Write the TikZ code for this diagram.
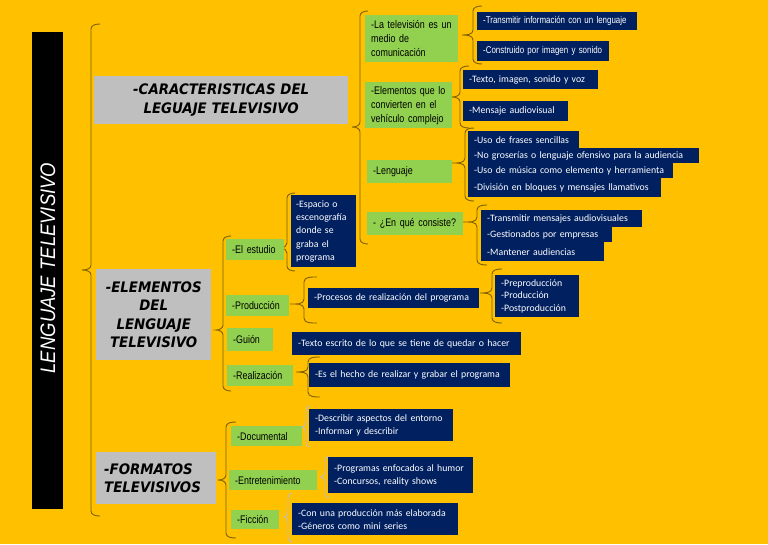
\documentclass[tikz,border=0pt]{standalone}
\usepackage{fontspec}
\usepackage{tikz}
\usetikzlibrary{positioning,calc}
\usepackage{xcolor}

\newfontfamily\narrow[FakeStretch=0.81]{Liberation Sans}
\newfontfamily\titlefont[FakeStretch=0.88]{Liberation Sans}
\newfontfamily\calib{Carlito}
\newfontfamily\heavy[FakeStretch=0.92]{DejaVu Sans}
\hyphenpenalty=10000

\definecolor{bgyellow}{HTML}{FFC000}
\definecolor{leaf}{HTML}{92D050}
\definecolor{navy}{HTML}{002060}
\definecolor{greybox}{HTML}{BFBFBF}
\definecolor{bracecol}{HTML}{7F6000}
\definecolor{lightbrk}{HTML}{BFBFBF}

\tikzset{
  topic/.style={fill=greybox, anchor=north west, inner xsep=6pt, inner ysep=0pt,
    font=\heavy\bfseries\itshape\fontsize{14.5}{18.5}\selectfont},
  item/.style={fill=leaf, anchor=north west, align=left, inner xsep=6pt, inner ysep=0pt,
    font=\narrow\fontsize{11}{14}\selectfont},
  note/.style={fill=navy, text=white, anchor=north west, align=left, inner xsep=6pt,
    inner ysep=0pt, font=\calib\fontsize{9.8}{13}\selectfont},
  notenarrow/.style={note, font=\narrow\fontsize{9.8}{12}\selectfont},
  brace/.style={draw=bracecol, line width=0.9pt},
  softbrace/.style={draw=lightbrk, line width=0.9pt}
}

% curly bracket: stem x, top, tip y, bottom, tip x, end x
\newcommand\curly[7][brace]{%
  \path[#1] (#7,#3) to[out=180,in=90] (#2,#3+5) -- (#2,#4-5)
    to[out=-90,in=0] (#6,#4) to[out=0,in=90] (#2,#4+5) -- (#2,#5-5)
    to[out=-90,in=180] (#7,#5);}

\begin{document}
\begin{tikzpicture}[x=1pt,y=-1pt]
  \useasboundingbox[fill=bgyellow] (0,0) rectangle (768,544);

  % Title
  \fill[black] (32,32) rectangle (63,509);
  \node[rotate=90, text=white, font=\titlefont\itshape\fontsize{21}{24}\selectfont]
    (title) at (48,268) {LENGUAJE TELEVISIVO};

  % Main topics
  \node[topic, text width=242pt, minimum height=48pt, align=center] (carac) at (94,76)
    {-CARACTERISTICAS DEL\\LEGUAJE TELEVISIVO};
  \node[topic, text width=103pt, minimum height=91pt, align=center] (elem) at (96,269)
    {-ELEMENTOS\\DEL\\LENGUAJE\\TELEVISIVO};
  \node[topic, text width=104pt, minimum height=52pt, align=left, inner xsep=8pt] (form) at (96,452)
    {-FORMATOS\\TELEVISIVOS};

  % Braces
  \curly{91}{24}{270}{516}{82}{100}
  \curly{360}{11}{127}{244}{352}{368}
  \curly{473}{6}{35}{64}{462}{482}
  \curly{460}{66}{97}{128}{452}{469}
  \curly{465}{128}{163}{201}{452}{474}
  \curly{477}{205}{222}{265}{463}{487}
  \curly{223}{236}{330}{391}{216}{231}
  \curly{287}{193}{248}{271}{281}{295}
  \curly{304}{277}{304}{323}{290}{317}
  \curly{492}{269}{293}{323}{480}{502}
  \curly{308}{357}{372}{397}{296}{320}
  \curly{226}{422}{480}{538}{218}{236}
  \curly[softbrace]{306}{406}{427}{447}{302}{310}
  \curly[softbrace]{325}{456}{477}{498}{321}{329}
  \curly[softbrace]{288}{493}{517}{542}{284}{292}

  % Caracteristicas
  \node[item, text width=81pt, minimum height=47pt] (tv) at (365,15)
    {-La televisión es un\\medio de\\comunicación};
  \node[item, text width=75pt, minimum height=46pt] (veh) at (365,82)
    {-Elementos que lo\\convierten en el\\vehículo complejo};
  \node[item, text width=73pt, minimum height=23pt] (leng) at (367,160) {-Lenguaje};
  \node[item, text width=84pt, minimum height=23pt] (cons) at (367,212) {- ¿En qué consiste?};

  \node[notenarrow, text width=148pt, minimum height=18pt] (tv1) at (477,12)
    {-Transmitir información con un lenguaje};
  \node[notenarrow, text width=120pt, minimum height=20pt] (tv2) at (477,41)
    {-Construido por imagen y sonido};
  \node[note, text width=123pt, minimum height=19pt] (veh1) at (463,70)
    {-Texto, imagen, sonido y voz};
  \node[note, text width=93pt, minimum height=20pt] (veh2) at (463,101)
    {-Mensaje audiovisual};

  \node[note, text width=99pt, minimum height=17pt] (leng1) at (468,131)
    {-Uso de frases sencillas};
  \node[note, text width=219pt, minimum height=15pt] (leng2) at (468,148)
    {-No groserías o lenguaje ofensivo para la audiencia};
  \node[note, text width=193pt, minimum height=15pt] (leng3) at (468,163)
    {-Uso de música como elemento y herramienta};
  \node[note, text width=181pt, minimum height=19pt] (leng4) at (468,178)
    {-División en bloques y mensajes llamativos};

  \node[note, text width=149pt, minimum height=17pt] (cons1) at (481,210)
    {-Transmitir mensajes audiovisuales};
  \node[note, text width=119pt, minimum height=15pt] (cons2) at (481,227)
    {-Gestionados por empresas};
  \node[note, text width=111pt, minimum height=19pt] (cons3) at (481,242)
    {-Mantener audiencias};

  % Elementos
  \node[item, text width=46pt, minimum height=21pt] (estudio) at (226,239) {-El estudio};
  \node[item, text width=51pt, minimum height=21pt] (produc) at (226,295) {-Producción};
  \node[item, text width=34pt, minimum height=23pt] (guion) at (227,328) {-Guión};
  \node[item, text width=54pt, minimum height=21pt] (realiz) at (227,365) {-Realización};

  \node[note, text width=55pt, inner xsep=5pt, minimum height=72pt,
    font=\calib\fontsize{9.8}{13.3}\selectfont]
    (estudio1) at (291,195) {-Espacio o\\escenografía\\donde se\\graba el\\programa};
  \node[note, text width=159pt, minimum height=20pt] (produc1) at (308,288)
    {-Procesos de realización del programa};
  \node[note, text width=72pt, minimum height=42pt, font=\calib\fontsize{9.8}{12.5}\selectfont]
    (fases) at (495,275) {-Preproducción\\-Producción\\-Postproducción};
  \node[note, text width=217pt, minimum height=23pt] (guion1) at (292,332)
    {-Texto escrito de lo que se tiene de quedar o hacer};
  \node[note, text width=189pt, minimum height=24pt] (realiz1) at (309,363)
    {-Es el hecho de realizar y grabar el programa};

  % Formatos
  \node[item, text width=59pt, minimum height=20pt] (docu) at (231,426) {-Documental};
  \node[item, text width=76pt, minimum height=20pt] (entre) at (229,470) {-Entretenimiento};
  \node[item, text width=36pt, minimum height=19pt] (ficc) at (231,510) {-Ficción};

  \node[note, text width=132pt, minimum height=32pt] (docu1) at (309,409)
    {-Describir aspectos del entorno\\-Informar y describir};
  \node[note, text width=133pt, minimum height=36pt] (entre1) at (328,457)
    {-Programas enfocados al humor\\-Concursos, reality shows};
  \node[note, text width=154pt, minimum height=32pt] (ficc1) at (292,503)
    {-Con una producción más elaborada\\-Géneros como mini series};
\end{tikzpicture}
\end{document}
